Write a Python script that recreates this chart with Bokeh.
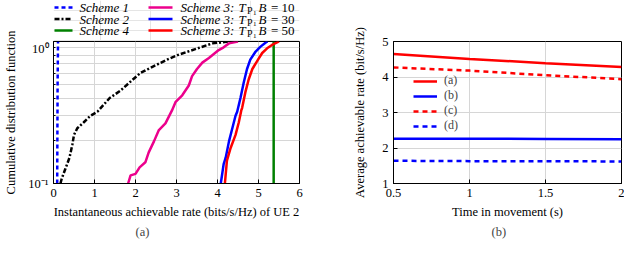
from bokeh.plotting import figure
from bokeh.layouts import row, column
from bokeh.models import FixedTicker, Legend, LegendItem, Title, Range1d
from bokeh.core.properties import value
from bokeh.embed import file_html
from bokeh.resources import INLINE

FONT = "Liberation Serif"
GRID = "#d6d6d6"
FS = "12.5px"

# ---------------- Panel (a): CDF of instantaneous achievable rate ----------------
x_ticks_a = [0, 1, 2, 3, 4, 5, 6]
y_ticks_a = [0.1, 1]
y_minor_a = [0.2, 0.3, 0.4, 0.5, 0.6, 0.7, 0.8, 0.9]
y_tick_labels_a = {0.1: "10\u207b\u00b9", 1: "10\u2070"}

s1_x = [0.09, 0.10, 0.11]
s1_y = [0.10, 0.50, 1.00]

s2_x = [0.17, 0.20, 0.29, 0.39, 0.46, 0.50, 0.58, 0.74, 0.90, 1.07, 1.10, 1.37, 1.63,
        1.92, 2.12, 2.40, 2.77, 3.04, 3.44, 3.88, 4.28]
s2_y = [0.100, 0.108, 0.127, 0.152, 0.188, 0.220, 0.245, 0.270, 0.300, 0.320, 0.327,
        0.400, 0.450, 0.535, 0.600, 0.660, 0.745, 0.805, 0.880, 0.970, 1.000]

s3_10_x = [1.82, 1.88, 2.00, 2.10, 2.24, 2.32, 2.45, 2.57, 2.73, 2.89, 2.98, 3.14, 3.30,
           3.38, 3.50, 3.63, 3.79, 4.03, 4.15, 4.28, 4.50]
s3_10_y = [0.100, 0.114, 0.117, 0.130, 0.141, 0.165, 0.198, 0.238, 0.265, 0.327, 0.376,
           0.418, 0.490, 0.570, 0.640, 0.710, 0.765, 0.870, 0.910, 0.970, 1.000]

s3_30_x = [4.08, 4.15, 4.20, 4.28, 4.36, 4.44, 4.48, 4.56, 4.64, 4.72, 4.80, 4.93, 5.05, 5.17, 5.22]
s3_30_y = [0.100, 0.137, 0.152, 0.198, 0.244, 0.300, 0.320, 0.400, 0.515, 0.640, 0.745,
           0.850, 0.920, 0.980, 1.000]

s3_50_x = [4.18, 4.23, 4.32, 4.44, 4.52, 4.58, 4.60, 4.68, 4.76, 4.85, 4.97, 5.09, 5.21, 5.33, 5.50]
s3_50_y = [0.100, 0.145, 0.178, 0.220, 0.270, 0.327, 0.340, 0.440, 0.540, 0.640, 0.730,
           0.830, 0.895, 0.945, 1.000]

s4_x = [5.37, 5.37]
s4_y = [0.10, 1.00]

legend_a_left = ["Scheme 1", "Scheme 2", "Scheme 4"]
legend_a_b = ["10", "30", "50"]

# ---------------- Panel (b): average achievable rate vs time ----------------
t = [0.5, 1.0, 1.5, 2.0]
rate_a = [4.65, 4.51, 4.39, 4.28]
rate_b = [2.26, 2.26, 2.255, 2.25]
rate_c = [4.27, 4.18, 4.05, 3.94]
rate_d = [1.64, 1.63, 1.63, 1.62]
x_ticks_b = [0.5, 1, 1.5, 2]
x_tick_labels_b = {0.5: "0.5", 1: "1", 1.5: "1.5", 2: "2"}
y_ticks_b = [1, 2, 3, 4, 5]
legend_b = ["(a)", "(b)", "(c)", "(d)"]

BLUE = "#0000ff"
RED = "#ff0000"
BLACK = "#000000"
GREEN = "#008000"
MAGENTA = "#ec008c"
LW = 2.5
DASH1 = "4 3"
DASH2 = "5 2 2 2"
DASHB = "5 4"

YLAB_W = 22      # strip holding the y title of panel (a)
COL_W = 300      # width of the column holding legend strip + panel (a)
F_LEFT = 53      # page x of panel (a) frame left
F_RIGHT = 299    # page x of panel (a) frame right
TOP = 41         # page y of the frames' top
BOTTOM_B = 54    # border below the frames


def style(p):
    p.outline_line_color = "black"
    p.outline_line_width = 1
    p.background_fill_color = "white"
    p.border_fill_color = "white"
    for ax in (p.xaxis[0], p.yaxis[0]):
        ax.axis_line_color = "black"
        ax.major_tick_in = 4
        ax.major_tick_out = 0
        ax.minor_tick_in = 2
        ax.minor_tick_out = 0
        ax.major_tick_line_color = "black"
        ax.minor_tick_line_color = "black"
        ax.major_label_text_font = FONT
        ax.major_label_text_font_size = FS
        ax.major_label_text_color = "black"
        ax.axis_label_text_font = FONT
        ax.axis_label_text_font_size = FS
        ax.axis_label_text_font_style = "normal"
        ax.axis_label_text_color = "black"
    p.xaxis[0].minor_tick_line_color = None
    p.xaxis[0].major_label_standoff = 5
    p.xaxis[0].axis_label_standoff = 5
    p.xgrid.grid_line_color = GRID
    p.ygrid.grid_line_color = GRID


# ---- narrow strip: only the y-axis title of panel (a)
ylab = figure(width=YLAB_W, height=240, x_range=Range1d(0, 1), y_range=Range1d(0, 1),
              output_backend="svg", toolbar_location=None, title=None,
              x_axis_location=None, y_axis_location="left",
              min_border_left=YLAB_W - 2, min_border_right=0, min_border_top=TOP,
              min_border_bottom=BOTTOM_B)
ylab.outline_line_color = None
ylab.background_fill_color = "white"
ylab.border_fill_color = "white"
ylab.grid.visible = False
ylab.yaxis.ticker = FixedTicker(ticks=[])
ylab.yaxis.axis_line_color = None
ylab.yaxis.major_tick_line_color = None
ylab.yaxis.minor_tick_line_color = None
ylab.yaxis.major_tick_out = 0
ylab.yaxis.major_label_standoff = 0
ylab.yaxis.axis_label = "Cumulative distribution function"
ylab.yaxis.axis_label_standoff = 4
ylab.yaxis.axis_label_text_font = FONT
ylab.yaxis.axis_label_text_font_size = FS
ylab.yaxis.axis_label_text_font_style = "normal"
ylab.yaxis.axis_label_text_color = "black"

# ---- legend strip above panel (a); its frame lines up with panel (a)'s frame,
#      so its data space is the page's pixel space
leg = figure(width=COL_W, height=TOP, x_range=Range1d(F_LEFT, F_RIGHT),
             y_range=Range1d(TOP, 0), output_backend="svg", toolbar_location=None,
             title=None, x_axis_location=None, y_axis_location=None,
             min_border_left=F_LEFT - YLAB_W, min_border_right=YLAB_W + COL_W - F_RIGHT,
             min_border_top=0, min_border_bottom=0)
leg.outline_line_color = None
leg.background_fill_color = "white"
leg.border_fill_color = "white"
rows_y = [7, 18.5, 30]
left_styles = [(BLUE, DASH1), (BLACK, DASH2), (GREEN, "solid")]
for (col, dash), yy in zip(left_styles, rows_y):
    leg.segment(x0=[54], y0=[yy], x1=[72], y1=[yy], line_color=col, line_width=LW, line_dash=dash)
leg.text(x=[79] * 3, y=rows_y, text=legend_a_left, text_font=value(FONT),
         text_font_size=value("13px"), text_font_style="italic", text_baseline="middle",
         text_color="black")
for col, yy in zip([MAGENTA, BLUE, RED], rows_y):
    leg.segment(x0=[148], y0=[yy], x1=[172], y1=[yy], line_color=col, line_width=LW)
leg.text(x=[180] * 3, y=rows_y, text=["Scheme 3:"] * 3, text_font=value(FONT),
         text_font_size=value("13px"), text_font_style="italic", text_baseline="middle",
         text_color="black")
leg.text(x=[238] * 3, y=rows_y, text=["T"] * 3, text_font=value(FONT),
         text_font_size=value("13px"), text_font_style="italic", text_baseline="middle",
         text_color="black")
leg.text(x=[246.5] * 3, y=[v + 3 for v in rows_y], text=["P"] * 3, text_font=value(FONT),
         text_font_size=value("10px"), text_baseline="middle", text_color="black")
leg.text(x=[252.5] * 3, y=[v + 5 for v in rows_y], text=["1"] * 3, text_font=value(FONT),
         text_font_size=value("7px"), text_baseline="middle", text_color="black")
leg.text(x=[258] * 3, y=rows_y, text=["B"] * 3, text_font=value(FONT),
         text_font_size=value("13px"), text_font_style="italic", text_baseline="middle",
         text_color="black")
leg.text(x=[270.5] * 3, y=rows_y, text=["= " + b for b in legend_a_b], text_font=value(FONT),
         text_font_size=value("13px"), text_baseline="middle", text_color="black")

# ---- figure (a)
p1 = figure(width=COL_W, height=240 - TOP, y_axis_type="log", output_backend="svg",
            toolbar_location=None, title=None, x_range=Range1d(0, 6), y_range=Range1d(0.1, 1),
            min_border_left=F_LEFT - YLAB_W, min_border_right=YLAB_W + COL_W - F_RIGHT,
            min_border_top=0, min_border_bottom=BOTTOM_B)
style(p1)
p1.xaxis.ticker = FixedTicker(ticks=x_ticks_a)
p1.yaxis.ticker = FixedTicker(ticks=y_ticks_a, minor_ticks=y_minor_a)
p1.yaxis.major_label_overrides = y_tick_labels_a
p1.ygrid.minor_grid_line_color = GRID
p1.xaxis.axis_label = "Instantaneous achievable rate (bits/s/Hz) of UE 2"
p1.yaxis.major_label_standoff = 5

p1.line(s1_x, s1_y, line_color=BLUE, line_width=LW, line_dash=DASH1)
p1.line(s2_x, s2_y, line_color=BLACK, line_width=LW, line_dash=DASH2)
p1.line(s4_x, s4_y, line_color=GREEN, line_width=LW)
p1.line(s3_10_x, s3_10_y, line_color=MAGENTA, line_width=LW)
p1.line(s3_30_x, s3_30_y, line_color=BLUE, line_width=LW)
p1.line(s3_50_x, s3_50_y, line_color=RED, line_width=LW)

p1.add_layout(Title(text="(a)", align="left", offset=82, text_font=FONT,
                    text_font_size=FS, text_font_style="normal", standoff=3), "below")

# ---- figure (b)
p2 = figure(width=302, height=240, output_backend="svg", toolbar_location=None, title=None,
            x_range=Range1d(0.5, 2), y_range=Range1d(1, 5),
            min_border_left=71, min_border_right=3, min_border_top=TOP,
            min_border_bottom=BOTTOM_B)
style(p2)
p2.xaxis.ticker = FixedTicker(ticks=x_ticks_b)
p2.xaxis.major_label_overrides = x_tick_labels_b
p2.yaxis.ticker = FixedTicker(ticks=y_ticks_b)
p2.yaxis.minor_tick_line_color = None
p2.xaxis.axis_label = "Time in movement (s)"
p2.yaxis.axis_label = "Average achievable rate (bit/s/Hz)"
p2.yaxis.major_label_standoff = 5
p2.yaxis.axis_label_standoff = 12

ra = p2.line(t, rate_a, line_color=RED, line_width=LW)
rb = p2.line(t, rate_b, line_color=BLUE, line_width=LW)
rc = p2.line(t, rate_c, line_color=RED, line_width=LW, line_dash=DASHB)
rd = p2.line(t, rate_d, line_color=BLUE, line_width=LW, line_dash=DASHB)

legend2 = Legend(items=[LegendItem(label=lab, renderers=[r])
                        for lab, r in zip(legend_b, [ra, rb, rc, rd])],
                 location=(18, 48), padding=2, spacing=0, glyph_height=14, label_height=14,
                 glyph_width=24, label_standoff=7, border_line_alpha=0,
                 background_fill_alpha=0.0,
                 label_text_font=FONT, label_text_font_size="12px", margin=0)
p2.add_layout(legend2)

p2.add_layout(Title(text="(b)", align="left", offset=98, text_font=FONT,
                    text_font_size=FS, text_font_style="normal", standoff=3), "below")

layout = row(ylab, column(leg, p1), p2)
open("out.html", "w").write(file_html(layout, INLINE))
